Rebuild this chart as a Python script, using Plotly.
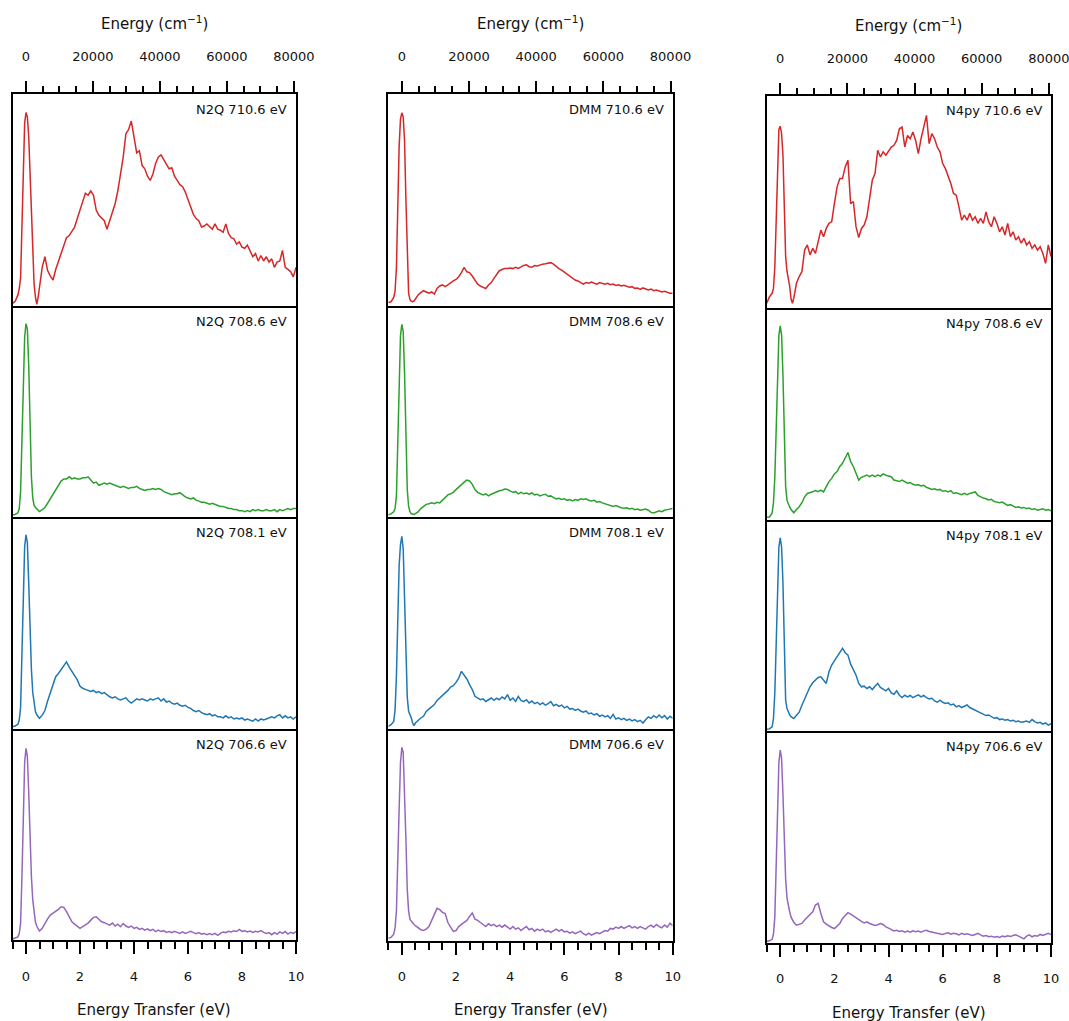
import plotly.graph_objects as go

W, H = 1069, 1021
EV_TO_CM = 8065.54  # 1 eV in cm^-1

# Energy-transfer sampling grid (eV): fine across the elastic line, 0.1 eV beyond
energy_peak = [-0.5, -0.4, -0.3, -0.25, -0.2, -0.15, -0.1, -0.05, 0.0, 0.05,
               0.1, 0.15, 0.2, 0.25, 0.3, 0.35, 0.4, 0.45, 0.5]
energy_tail = [0.6, 0.7, 0.8, 0.9, 1.0, 1.1, 1.2, 1.3, 1.4, 1.5,
               1.6, 1.7, 1.8, 1.9, 2.0, 2.1, 2.2, 2.3, 2.4, 2.5,
               2.6, 2.7, 2.8, 2.9, 3.0, 3.1, 3.2, 3.3, 3.4, 3.5,
               3.6, 3.7, 3.8, 3.9, 4.0, 4.1, 4.2, 4.3, 4.4, 4.5,
               4.6, 4.7, 4.8, 4.9, 5.0, 5.1, 5.2, 5.3, 5.4, 5.5,
               5.6, 5.7, 5.8, 5.9, 6.0, 6.1, 6.2, 6.3, 6.4, 6.5,
               6.6, 6.7, 6.8, 6.9, 7.0, 7.1, 7.2, 7.3, 7.4, 7.5,
               7.6, 7.7, 7.8, 7.9, 8.0, 8.1, 8.2, 8.3, 8.4, 8.5,
               8.6, 8.7, 8.8, 8.9, 9.0, 9.1, 9.2, 9.3, 9.4, 9.5,
               9.6, 9.7, 9.8, 9.9, 10.0]
energy_ev = energy_peak + energy_tail

samples = ["N2Q", "DMM", "N4py"]
excitations = ["710.6", "708.6", "708.1", "706.6"]
row_colors = ["#d62728", "#2ca02c", "#1f77b4", "#9467bd"]

# ---- N2Q (normalised intensity) ----
n2q_7106 = [0.01, 0.02, 0.05, 0.08, 0.13, 0.40, 0.70, 0.86, 0.91, 0.89,
            0.80, 0.62, 0.40, 0.20, 0.10, 0.04, 0.005, 0.04, 0.09] + [
    0.18, 0.23, 0.165, 0.14, 0.12, 0.17, 0.21, 0.25, 0.29, 0.32,
    0.33, 0.35, 0.37, 0.41, 0.45, 0.49, 0.53, 0.52, 0.54, 0.52,
    0.45, 0.425, 0.41, 0.40, 0.36, 0.40, 0.44, 0.48, 0.54, 0.62,
    0.70, 0.81, 0.83, 0.87, 0.80, 0.72, 0.73, 0.66, 0.645, 0.61,
    0.59, 0.62, 0.67, 0.70, 0.71, 0.69, 0.67, 0.645, 0.65, 0.61,
    0.59, 0.57, 0.56, 0.535, 0.50, 0.465, 0.43, 0.41, 0.40, 0.37,
    0.375, 0.385, 0.37, 0.36, 0.385, 0.36, 0.355, 0.345, 0.385, 0.34,
    0.32, 0.315, 0.29, 0.30, 0.275, 0.27, 0.285, 0.26, 0.23, 0.245,
    0.21, 0.235, 0.21, 0.23, 0.205, 0.22, 0.18, 0.205, 0.21, 0.26,
    0.18, 0.17, 0.16, 0.135, 0.18]
n2q_7086 = [0.01, 0.012, 0.02, 0.04, 0.12, 0.38, 0.65, 0.85, 0.914, 0.89,
            0.72, 0.42, 0.19, 0.09, 0.055, 0.045, 0.037, 0.03, 0.026] + [
    0.035, 0.045, 0.065, 0.085, 0.11, 0.13, 0.15, 0.17, 0.18, 0.18,
    0.19, 0.18, 0.185, 0.18, 0.18, 0.185, 0.185, 0.19, 0.175, 0.16,
    0.165, 0.15, 0.155, 0.16, 0.155, 0.16, 0.155, 0.15, 0.145, 0.14,
    0.145, 0.14, 0.135, 0.14, 0.14, 0.145, 0.135, 0.13, 0.125, 0.13,
    0.13, 0.135, 0.13, 0.135, 0.13, 0.12, 0.115, 0.11, 0.105, 0.11,
    0.11, 0.115, 0.105, 0.095, 0.09, 0.085, 0.09, 0.08, 0.075, 0.07,
    0.07, 0.065, 0.06, 0.065, 0.06, 0.055, 0.05, 0.05, 0.045, 0.04,
    0.04, 0.035, 0.035, 0.03, 0.03, 0.025, 0.03, 0.025, 0.035, 0.03,
    0.035, 0.03, 0.03, 0.035, 0.03, 0.03, 0.035, 0.025, 0.035, 0.03,
    0.035, 0.04, 0.035, 0.04, 0.04]
n2q_7081 = [0.01, 0.012, 0.02, 0.04, 0.10, 0.35, 0.65, 0.86, 0.916, 0.88,
            0.69, 0.45, 0.28, 0.17, 0.11, 0.08, 0.065, 0.055, 0.048] + [
    0.063, 0.085, 0.13, 0.17, 0.20, 0.245, 0.26, 0.28, 0.295, 0.315,
    0.29, 0.27, 0.255, 0.23, 0.20, 0.19, 0.185, 0.18, 0.175, 0.18,
    0.17, 0.175, 0.165, 0.17, 0.16, 0.15, 0.145, 0.15, 0.14, 0.135,
    0.14, 0.145, 0.13, 0.12, 0.13, 0.14, 0.135, 0.14, 0.135, 0.13,
    0.14, 0.135, 0.14, 0.145, 0.13, 0.14, 0.125, 0.13, 0.12, 0.115,
    0.12, 0.11, 0.105, 0.11, 0.10, 0.095, 0.085, 0.08, 0.085, 0.075,
    0.07, 0.065, 0.07, 0.06, 0.065, 0.055, 0.055, 0.05, 0.06, 0.05,
    0.055, 0.045, 0.05, 0.045, 0.05, 0.04, 0.045, 0.04, 0.035, 0.045,
    0.035, 0.045, 0.04, 0.045, 0.05, 0.055, 0.05, 0.06, 0.065, 0.05,
    0.06, 0.05, 0.055, 0.045, 0.055]
n2q_7066 = [0.005, 0.01, 0.015, 0.03, 0.08, 0.30, 0.62, 0.84, 0.906, 0.87,
            0.70, 0.48, 0.30, 0.19, 0.12, 0.085, 0.065, 0.05, 0.042] + [
    0.055, 0.08, 0.10, 0.118, 0.126, 0.134, 0.145, 0.157, 0.154, 0.134,
    0.11, 0.086, 0.075, 0.063, 0.055, 0.063, 0.07, 0.08, 0.094, 0.107,
    0.11, 0.097, 0.086, 0.082, 0.075, 0.07, 0.08, 0.066, 0.075, 0.063,
    0.078, 0.066, 0.06, 0.066, 0.055, 0.06, 0.05, 0.055, 0.047, 0.053,
    0.044, 0.05, 0.04, 0.047, 0.04, 0.044, 0.036, 0.04, 0.035, 0.041,
    0.036, 0.031, 0.038, 0.031, 0.036, 0.041, 0.035, 0.03, 0.035, 0.028,
    0.031, 0.025, 0.03, 0.025, 0.031, 0.022, 0.031, 0.038, 0.035, 0.041,
    0.038, 0.044, 0.04, 0.05, 0.041, 0.044, 0.038, 0.042, 0.036, 0.041,
    0.038, 0.044, 0.036, 0.031, 0.035, 0.025, 0.035, 0.028, 0.038, 0.031,
    0.04, 0.028, 0.036, 0.031, 0.04]

# ---- DMM ----
dmm_7106 = [0.016, 0.02, 0.04, 0.07, 0.18, 0.47, 0.75, 0.88, 0.909, 0.89,
            0.78, 0.50, 0.22, 0.06, 0.03, 0.022, 0.02, 0.024, 0.033] + [
    0.052, 0.063, 0.072, 0.066, 0.06, 0.066, 0.056, 0.083, 0.094, 0.099,
    0.091, 0.099, 0.11, 0.118, 0.125, 0.138, 0.157, 0.182, 0.161, 0.157,
    0.141, 0.122, 0.103, 0.094, 0.088, 0.082, 0.099, 0.11, 0.13, 0.15,
    0.166, 0.172, 0.176, 0.176, 0.179, 0.176, 0.182, 0.177, 0.185, 0.191,
    0.194, 0.185, 0.182, 0.19, 0.188, 0.194, 0.197, 0.199, 0.202, 0.204,
    0.197, 0.185, 0.176, 0.169, 0.16, 0.15, 0.141, 0.135, 0.122, 0.118,
    0.11, 0.103, 0.11, 0.107, 0.113, 0.107, 0.103, 0.11, 0.107, 0.103,
    0.107, 0.1, 0.103, 0.097, 0.1, 0.094, 0.097, 0.091, 0.088, 0.091,
    0.083, 0.085, 0.078, 0.085, 0.078, 0.075, 0.08, 0.072, 0.075, 0.069,
    0.066, 0.069, 0.063, 0.06, 0.06]
dmm_7086 = [0.01, 0.015, 0.025, 0.04, 0.10, 0.35, 0.66, 0.86, 0.913, 0.88,
            0.68, 0.38, 0.13, 0.05, 0.025, 0.015, 0.012, 0.012, 0.016] + [
    0.024, 0.04, 0.05, 0.06, 0.063, 0.067, 0.063, 0.07, 0.067, 0.08,
    0.095, 0.105, 0.11, 0.117, 0.13, 0.143, 0.155, 0.165, 0.175, 0.171,
    0.155, 0.13, 0.117, 0.11, 0.105, 0.11, 0.1, 0.108, 0.114, 0.117,
    0.124, 0.127, 0.133, 0.13, 0.124, 0.117, 0.12, 0.11, 0.117, 0.11,
    0.114, 0.108, 0.114, 0.105, 0.108, 0.1, 0.105, 0.108, 0.098, 0.1,
    0.092, 0.086, 0.089, 0.083, 0.086, 0.079, 0.083, 0.076, 0.083, 0.079,
    0.086, 0.083, 0.086, 0.079, 0.076, 0.079, 0.07, 0.073, 0.067, 0.063,
    0.06, 0.054, 0.05, 0.054, 0.048, 0.044, 0.041, 0.044, 0.038, 0.041,
    0.035, 0.038, 0.032, 0.035, 0.038, 0.032, 0.022, 0.019, 0.025, 0.029,
    0.025, 0.032, 0.035, 0.038, 0.04]
dmm_7081 = [0.012, 0.02, 0.036, 0.09, 0.25, 0.53, 0.77, 0.87, 0.909, 0.85,
            0.64, 0.37, 0.15, 0.083, 0.068, 0.052, 0.028, 0.016, 0.028] + [
    0.041, 0.052, 0.06, 0.083, 0.094, 0.107, 0.115, 0.135, 0.146, 0.16,
    0.17, 0.182, 0.198, 0.204, 0.22, 0.24, 0.272, 0.252, 0.236, 0.209,
    0.186, 0.154, 0.146, 0.138, 0.142, 0.13, 0.138, 0.146, 0.135, 0.145,
    0.138, 0.151, 0.142, 0.162, 0.135, 0.146, 0.13, 0.154, 0.135, 0.129,
    0.138, 0.123, 0.132, 0.12, 0.126, 0.115, 0.123, 0.113, 0.12, 0.129,
    0.11, 0.116, 0.107, 0.113, 0.1, 0.107, 0.094, 0.097, 0.088, 0.094,
    0.085, 0.079, 0.085, 0.072, 0.075, 0.066, 0.072, 0.06, 0.066, 0.057,
    0.063, 0.05, 0.069, 0.047, 0.053, 0.044, 0.05, 0.041, 0.047, 0.038,
    0.044, 0.035, 0.041, 0.028, 0.044, 0.057, 0.05, 0.063, 0.053, 0.066,
    0.053, 0.063, 0.047, 0.06, 0.05]
dmm_7066 = [0.01, 0.015, 0.03, 0.06, 0.14, 0.33, 0.62, 0.84, 0.913, 0.89,
            0.73, 0.48, 0.24, 0.14, 0.10, 0.09, 0.082, 0.076, 0.07] + [
    0.059, 0.051, 0.047, 0.054, 0.066, 0.095, 0.122, 0.152, 0.146, 0.133,
    0.127, 0.085, 0.063, 0.043, 0.047, 0.066, 0.076, 0.085, 0.095, 0.114,
    0.13, 0.101, 0.095, 0.085, 0.074, 0.066, 0.079, 0.07, 0.076, 0.066,
    0.073, 0.063, 0.073, 0.063, 0.054, 0.066, 0.054, 0.06, 0.047, 0.057,
    0.066, 0.051, 0.057, 0.044, 0.054, 0.047, 0.054, 0.041, 0.047, 0.038,
    0.047, 0.054, 0.044, 0.051, 0.041, 0.044, 0.035, 0.041, 0.032, 0.038,
    0.044, 0.032, 0.025, 0.035, 0.025, 0.032, 0.038, 0.032, 0.041, 0.047,
    0.044, 0.057, 0.054, 0.063, 0.057, 0.066, 0.057, 0.063, 0.07, 0.06,
    0.066, 0.057, 0.066, 0.06, 0.054, 0.066, 0.073, 0.063, 0.076, 0.066,
    0.06, 0.073, 0.063, 0.082, 0.07]

# ---- N4py ----
n4py_7106 = [0.02, 0.05, 0.067, 0.09, 0.19, 0.45, 0.70, 0.84, 0.855, 0.82,
             0.72, 0.45, 0.24, 0.17, 0.14, 0.10, 0.04, 0.02, 0.044] + [
    0.114, 0.146, 0.169, 0.271, 0.295, 0.248, 0.279, 0.255, 0.318, 0.365,
    0.334, 0.373, 0.397, 0.404, 0.49, 0.569, 0.608, 0.608, 0.663, 0.694,
    0.49, 0.50, 0.38, 0.33, 0.373, 0.389, 0.428, 0.522, 0.60, 0.632,
    0.741, 0.71, 0.734, 0.718, 0.741, 0.757, 0.765, 0.788, 0.843, 0.851,
    0.757, 0.812, 0.796, 0.828, 0.788, 0.726, 0.796, 0.859, 0.906, 0.773,
    0.82, 0.796, 0.757, 0.734, 0.679, 0.655, 0.624, 0.585, 0.538, 0.53,
    0.475, 0.412, 0.436, 0.412, 0.444, 0.412, 0.428, 0.397, 0.42, 0.397,
    0.451, 0.404, 0.381, 0.428, 0.397, 0.357, 0.381, 0.342, 0.397, 0.334,
    0.357, 0.318, 0.334, 0.303, 0.326, 0.295, 0.31, 0.279, 0.295, 0.271,
    0.287, 0.255, 0.208, 0.295, 0.24]
n4py_7086 = [0.01, 0.012, 0.03, 0.08, 0.20, 0.45, 0.70, 0.87, 0.913, 0.87,
             0.68, 0.40, 0.155, 0.09, 0.072, 0.058, 0.047, 0.038, 0.032] + [
    0.047, 0.06, 0.079, 0.107, 0.123, 0.126, 0.131, 0.136, 0.131, 0.139,
    0.13, 0.155, 0.179, 0.194, 0.215, 0.226, 0.25, 0.265, 0.289, 0.316,
    0.273, 0.25, 0.218, 0.186, 0.199, 0.205, 0.21, 0.202, 0.209, 0.202,
    0.21, 0.205, 0.215, 0.209, 0.205, 0.202, 0.186, 0.183, 0.179, 0.186,
    0.177, 0.171, 0.174, 0.166, 0.163, 0.164, 0.158, 0.161, 0.152, 0.147,
    0.142, 0.145, 0.139, 0.142, 0.133, 0.136, 0.13, 0.136, 0.123, 0.126,
    0.12, 0.117, 0.123, 0.117, 0.123, 0.126, 0.13, 0.114, 0.107, 0.101,
    0.098, 0.092, 0.095, 0.085, 0.082, 0.079, 0.082, 0.073, 0.066, 0.07,
    0.063, 0.057, 0.06, 0.054, 0.057, 0.051, 0.054, 0.047, 0.051, 0.044,
    0.047, 0.051, 0.044, 0.047, 0.041]
n4py_7081 = [0.008, 0.01, 0.02, 0.06, 0.18, 0.45, 0.70, 0.87, 0.913, 0.87,
             0.70, 0.40, 0.146, 0.106, 0.088, 0.076, 0.068, 0.062, 0.059] + [
    0.074, 0.089, 0.122, 0.153, 0.177, 0.209, 0.228, 0.241, 0.253, 0.256,
    0.241, 0.225, 0.28, 0.312, 0.332, 0.351, 0.367, 0.391, 0.37, 0.359,
    0.316, 0.291, 0.264, 0.225, 0.209, 0.212, 0.201, 0.209, 0.196, 0.212,
    0.225, 0.206, 0.196, 0.19, 0.201, 0.18, 0.174, 0.19, 0.169, 0.158,
    0.169, 0.161, 0.168, 0.158, 0.165, 0.171, 0.161, 0.168, 0.158, 0.152,
    0.155, 0.142, 0.136, 0.146, 0.136, 0.13, 0.133, 0.123, 0.127, 0.114,
    0.12, 0.111, 0.117, 0.123, 0.111, 0.104, 0.098, 0.092, 0.085, 0.079,
    0.073, 0.076, 0.066, 0.06, 0.063, 0.054, 0.057, 0.051, 0.054, 0.047,
    0.051, 0.044, 0.047, 0.041, 0.044, 0.047, 0.041, 0.054, 0.044, 0.038,
    0.041, 0.032, 0.038, 0.028, 0.035]
n4py_7066 = [0.005, 0.008, 0.015, 0.04, 0.12, 0.38, 0.66, 0.85, 0.91, 0.87,
             0.70, 0.48, 0.30, 0.21, 0.17, 0.145, 0.12, 0.105, 0.096] + [
    0.082, 0.085, 0.09, 0.106, 0.118, 0.13, 0.145, 0.177, 0.185, 0.137,
    0.098, 0.087, 0.077, 0.071, 0.066, 0.077, 0.09, 0.114, 0.13, 0.141,
    0.134, 0.125, 0.114, 0.106, 0.1, 0.093, 0.098, 0.09, 0.087, 0.081,
    0.084, 0.09, 0.085, 0.074, 0.068, 0.062, 0.055, 0.058, 0.052, 0.055,
    0.049, 0.054, 0.049, 0.055, 0.051, 0.054, 0.049, 0.055, 0.058, 0.052,
    0.049, 0.046, 0.043, 0.041, 0.038, 0.043, 0.046, 0.039, 0.044, 0.041,
    0.036, 0.043, 0.038, 0.041, 0.036, 0.033, 0.038, 0.043, 0.036, 0.03,
    0.033, 0.027, 0.03, 0.025, 0.028, 0.024, 0.03, 0.027, 0.032, 0.028,
    0.033, 0.036, 0.03, 0.024, 0.017, 0.03, 0.036, 0.027, 0.033, 0.03,
    0.038, 0.033, 0.039, 0.043, 0.038]

spectra = [
    [n2q_7106, n2q_7086, n2q_7081, n2q_7066],
    [dmm_7106, dmm_7086, dmm_7081, dmm_7066],
    [n4py_7106, n4py_7086, n4py_7081, n4py_7066],
]
for col in spectra:
    for s in col:
        assert len(s) == len(energy_ev), len(s)

cm_major = [0, 20000, 40000, 60000, 80000]

# Panel geometry in page pixels: frame left/right and row boundaries per column
columns_px = [
    dict(left=12.5, right=296.0, rows=[93.5, 305.5, 517.0, 728.5, 940.0],
         top_title=23, bottom_title=1010),
    dict(left=388.3, right=672.7, rows=[93.5, 306.0, 517.0, 729.0, 940.5],
         top_title=23, bottom_title=1010),
    dict(left=766.7, right=1051.0, rows=[95.5, 307.5, 519.5, 731.0, 942.5],
         top_title=25, bottom_title=1013),
]


def fx(px):
    return px / W


def fy(py):
    return 1 - py / H


FONT = "DejaVu Sans"
TXT = "#111111"
base_axis = dict(showgrid=False, zeroline=False, fixedrange=True,
                 automargin=False)
tick_style = dict(ticks="outside", ticklen=12, tickwidth=2, tickcolor="black",
                  tickfont=dict(family=FONT, size=13, color=TXT))

fig = go.Figure()
layout = dict(width=W, height=H, autosize=False,
              margin=dict(l=0, r=0, t=0, b=0, pad=0, autoexpand=False),
              paper_bgcolor="white", plot_bgcolor="white", showlegend=False,
              font=dict(family=FONT, size=13, color=TXT))
annotations = []

for c, geo in enumerate(columns_px):
    for r in range(4):
        k = c * 4 + r + 1
        xn = "x" if k == 1 else f"x{k}"
        yn = "y" if k == 1 else f"y{k}"
        xkey = "xaxis" if k == 1 else f"xaxis{k}"
        ykey = "yaxis" if k == 1 else f"yaxis{k}"
        top_px, bot_px = geo["rows"][r], geo["rows"][r + 1]

        fig.add_trace(go.Scatter(
            x=energy_ev, y=spectra[c][r], mode="lines",
            line=dict(color=row_colors[r], width=1.5),
            xaxis=xn, yaxis=yn, hoverinfo="skip"))

        # each panel draws its bottom edge; only the top panel adds the top edge
        xa = dict(base_axis, showline=True, linecolor="black", linewidth=2,
                  mirror=(r == 0),
                  domain=[fx(geo["left"]), fx(geo["right"])],
                  range=[-0.5, 10], anchor=yn)
        if r == 3:
            xa.update(tick_style, tickmode="linear", tick0=0, dtick=2,
                      showticklabels=True, ticklabelstandoff=11,
                      minor=dict(ticks="outside", ticklen=7, tickwidth=2,
                                 tickcolor="black", tick0=0, dtick=0.5))
        else:
            xa.update(ticks="", showticklabels=False)
        layout[xkey] = xa
        layout[ykey] = dict(base_axis, showline=True, linecolor="black",
                            linewidth=2, mirror=True,
                            domain=[fy(bot_px), fy(top_px)],
                            range=[0, 1], anchor=xn, ticks="",
                            showticklabels=False)

        annotations.append(dict(
            text=f"{samples[c]} {excitations[r]} eV", xref="paper", yref="paper",
            x=fx(geo["right"] - 7), y=fy(top_px + 15.5), xanchor="right",
            yanchor="middle", showarrow=False,
            font=dict(family=FONT, size=13, color=TXT)))

    # secondary top axis in wavenumbers, sharing the top panel
    kt = c * 4 + 1
    xt_name = f"x{13 + c}"
    base_x = "x" if kt == 1 else f"x{kt}"
    base_y = "y" if kt == 1 else f"y{kt}"
    layout[f"xaxis{13 + c}"] = dict(
        base_axis, **tick_style, overlaying=base_x, anchor=base_y, side="top",
        domain=[fx(geo["left"]), fx(geo["right"])],
        range=[-0.5 * EV_TO_CM, 10 * EV_TO_CM], showline=False,
        tickmode="array", tickvals=cm_major,
        ticktext=[str(v) for v in cm_major], ticklabelstandoff=14,
        ticklabeloverflow="allow",
        minor=dict(ticks="outside", ticklen=7, tickwidth=2, tickcolor="black",
                   tickmode="linear", tick0=0, dtick=5000))
    fig.add_trace(go.Scatter(x=[0, 80000], y=[None, None], mode="lines",
                             xaxis=xt_name, yaxis=base_y, hoverinfo="skip"))

    cx = fx((geo["left"] + geo["right"]) / 2)
    annotations.append(dict(
        text="Energy (cm<sup>−1</sup>)", xref="paper", yref="paper", x=cx,
        y=fy(geo["top_title"]), xanchor="center", yanchor="middle",
        showarrow=False, font=dict(family=FONT, size=15, color=TXT)))
    annotations.append(dict(
        text="Energy Transfer (eV)", xref="paper", yref="paper", x=cx,
        y=fy(geo["bottom_title"]), xanchor="center", yanchor="middle",
        showarrow=False, font=dict(family=FONT, size=15, color=TXT)))

layout["annotations"] = annotations
fig.update_layout(**layout)
fig.write_html("out.html")
